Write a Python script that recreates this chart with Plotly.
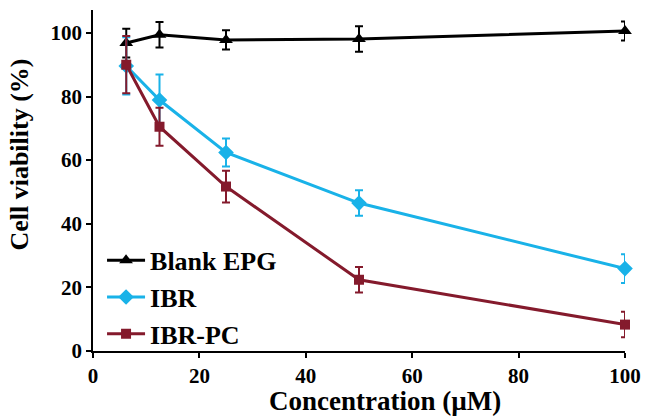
import plotly.graph_objects as go

conc = [6.25, 12.5, 25, 50, 100]
blank_epg = [96.8, 99.4, 97.8, 98.1, 100.6]
blank_err = [4.5, 4.0, 3.0, 4.0, 3.0]
ibr = [89.6, 78.9, 62.4, 46.5, 25.9]
ibr_err = [9.0, 8.0, 4.4, 4.0, 4.5]
ibr_pc = [90.0, 70.5, 51.7, 22.4, 8.3]
ibr_pc_err = [9.0, 6.0, 5.0, 4.0, 4.0]
tick_vals = [0, 20, 40, 60, 80, 100]

series = [
    ("Blank EPG", blank_epg, blank_err, "#000000", "triangle-up", 12),
    ("IBR", ibr, ibr_err, "#19B2E8", "diamond", 12),
    ("IBR-PC", ibr_pc, ibr_pc_err, "#841A2C", "square", 10),
]

fig = go.Figure()
for name, y, e, col, sym, sz in series:
    fig.add_trace(go.Scatter(
        x=conc, y=y, name=f"<b>{name}</b>", mode="lines+markers",
        line=dict(color=col, width=3),
        marker=dict(color=col, symbol=sym, size=sz),
        error_y=dict(type="data", array=e, visible=True, color=col, thickness=2, width=4),
        cliponaxis=False,
    ))

font = "Liberation Serif"
fig.update_layout(
    width=651, height=419,
    margin=dict(l=93, r=18, t=10, b=68),
    paper_bgcolor="white", plot_bgcolor="white",
    font=dict(family=font, color="black"),
    showlegend=True,
    legend=dict(x=0.017, y=0.335, xanchor="left", yanchor="top",
                font=dict(family=font, size=26, color="black"),
                bgcolor="rgba(0,0,0,0)", tracegroupgap=0, itemwidth=38),
    annotations=[
        dict(text="<b>Concentration (µM)</b>", xref="paper", yref="paper",
             x=(389 - 93) / 540, y=-0.148, xanchor="center", yanchor="middle",
             showarrow=False, font=dict(family=font, size=27, color="black")),
        dict(text="<b>Cell viability (%)</b>", xref="paper", yref="paper",
             x=-0.138, y=(351 - 155) / 341, xanchor="center", yanchor="middle",
             textangle=-90, showarrow=False, font=dict(family=font, size=26, color="black")),
    ],
)
fig.update_xaxes(
    range=[0, 100], tickvals=tick_vals, ticktext=[f"<b>{v}</b>" for v in tick_vals],
    showline=True, linecolor="black", linewidth=1.5,
    ticks="outside", ticklen=5, tickwidth=1.5, tickcolor="black",
    showgrid=False, zeroline=False,
    tickfont=dict(family=font, size=21, color="black"),
)
fig.update_yaxes(
    range=[0, 107.2], tickvals=tick_vals, ticktext=[f"<b>{v}</b>" for v in tick_vals],
    showline=True, linecolor="black", linewidth=1.5,
    ticks="outside", ticklen=5, tickwidth=1.5, tickcolor="black",
    showgrid=False, zeroline=False,
    tickfont=dict(family=font, size=21, color="black"),
)
fig.write_html("out.html")
